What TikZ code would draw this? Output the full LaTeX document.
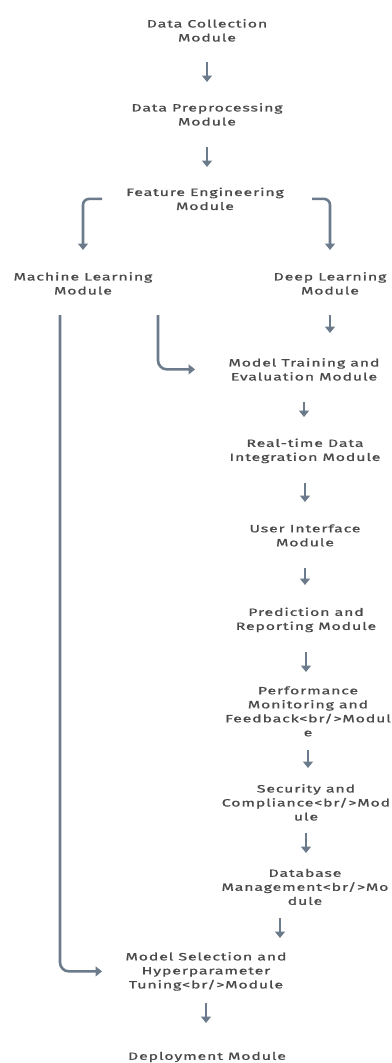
\documentclass[tikz,border=0pt]{standalone}
\usepackage{fontspec}
\setmainfont{Fira Sans}[FakeStretch=1.5,LetterSpace=8,FakeBold=1.0]
\usetikzlibrary{arrows.meta}
\definecolor{txt}{HTML}{4A4A4A}
\definecolor{lnk}{HTML}{6B7B8C}
\newcommand{\brtag}{\textless br/\textgreater}
\begin{document}
\begin{tikzpicture}[x=1pt,y=-1pt,
  mod/.style={align=center, text=txt, font=\fontsize{10.6}{14}\selectfont,
    inner xsep=4pt, inner ysep=4pt},
  flow/.style={draw=lnk, line width=2.5pt, -{Triangle[length=6.5pt,width=10pt]}},
  feed/.style={draw=lnk, line width=2.6pt, rounded corners=9pt,
    -{Triangle[length=6.5pt,width=10pt]}},
  split/.style={feed, rounded corners=6pt}]
\useasboundingbox (0,0) rectangle (391,1063);

% modules
\node[mod] (dc) at (207,30.4)  {Data Collection\\Module};
\node[mod] (dp) at (207,114.4) {Data Preprocessing\\Module};
\node[mod] (fe) at (205,198.9) {Feature Engineering\\Module};
\node[mod] (ml) at (83,283.4)  {Machine Learning\\Module};
\node[mod] (dl) at (330,283.4) {Deep Learning\\Module};
\node[mod] (mt) at (304,369.4) {Model Training and\\Evaluation Module};
\node[mod] (rt) at (305,450.9) {Real-time Data\\Integration Module};
\node[mod] (ui) at (305,535.4) {User Interface\\Module};
\node[mod] (pr) at (306,619.9) {Prediction and\\Reporting Module};
\node[mod] (pm) at (308,711.4) {Performance\\Monitoring and\\Feedback\brtag Modul\\e};
\node[mod] (sc) at (306,802.4) {Security and\\Compliance\brtag Mod\\ule};
\node[mod] (db) at (305,886.9) {Database\\Management\brtag Mo\\dule};
\node[mod] (ms) at (206,971.4) {Model Selection and\\Hyperparameter\\Tuning\brtag Module};
\node[mod] (dm) at (207,1057)  {Deployment Module};

% guide columns for the vertical runs
\coordinate (colA) at (60,0);
\coordinate (colB) at (158,0);
\coordinate (colC) at (280,0);

% main chain (drawn centre to centre, trimmed to the gap)
\draw[flow, shorten <=31.6pt, shorten >=32.4pt] (dc.center) -- (dc.center |- dp.center);
\draw[flow, shorten <=32.6pt, shorten >=31.9pt] (dp.center) -- (dp.center |- fe.center);
\draw[split, shorten <=103pt, shorten >=33.4pt] (fe.center) -| (ml.center);
\draw[split, shorten <=107pt, shorten >=33.4pt] (fe.center) -| (dl.center);
\draw[flow, shorten <=31.6pt, shorten >=36.4pt] (dl.center) -- (dl.center |- mt.center);
\draw[flow, shorten <=32.6pt, shorten >=33.9pt] (mt.center) -- (mt.center |- rt.center);
\draw[flow, shorten <=32.1pt, shorten >=33.4pt] (rt.center) -- (rt.center |- ui.center);
\draw[flow, shorten <=32.6pt, shorten >=34.9pt] (ui.center) -- (ui.center |- pr.center);
\draw[flow, shorten <=32.1pt, shorten >=39.4pt] (pr.center) -- (pr.center |- pm.center);
\draw[flow, shorten <=38.6pt, shorten >=34.4pt] (pm.center) -- (pm.center |- sc.center);
\draw[flow, shorten <=30.6pt, shorten >=33.9pt] (sc.center) -- (sc.center |- db.center);
\draw[flow, shorten <=31.1pt, shorten >=33.4pt] (db.center -| colC) -- (ms.center -| colC);
\draw[flow, shorten <=31.6pt, shorten >=34pt] (ms.center) -- (ms.center |- dm.center);

% machine learning side links
\draw[feed, shorten <=31.6pt, shorten >=104pt] (ml.center -| colA) |- (ms.center);
\draw[feed, shorten <=31.6pt, shorten >=109pt] (ml.center -| colB) |- (mt.center);
\end{tikzpicture}
\end{document}
